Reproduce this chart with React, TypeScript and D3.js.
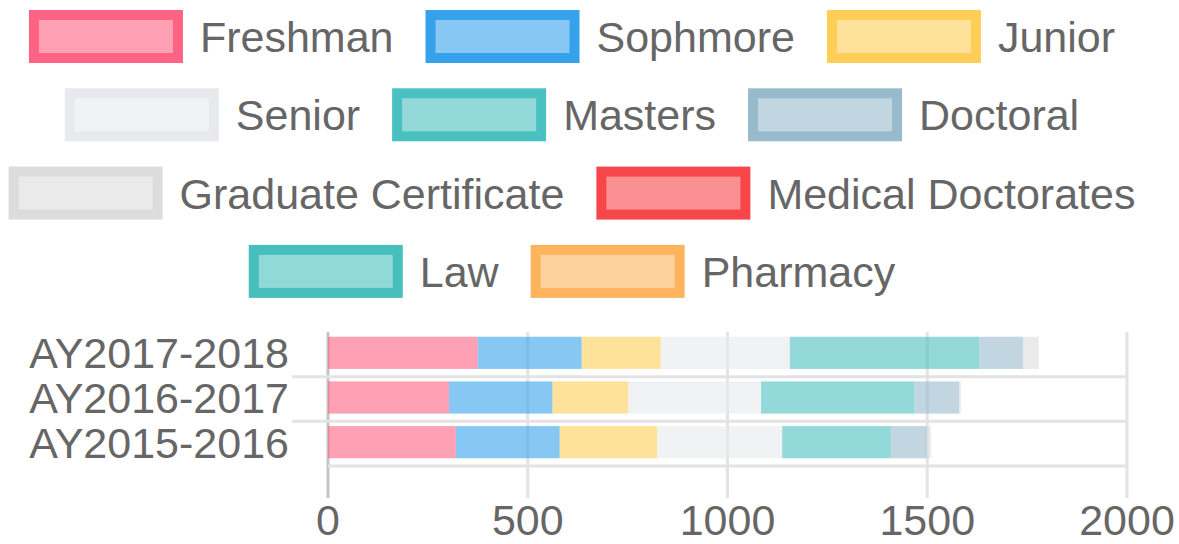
import React, { useEffect, useRef } from 'react';
import * as d3 from 'd3';

// Academic years (top to bottom)
const categories = ["AY2017-2018", "AY2016-2017", "AY2015-2016"];

// Series values, one per academic year
const freshman = [375, 303, 320];
const sophomore = [260, 259, 260];
const junior = [198, 190, 244];
const senior = [323, 332, 313];
const masters = [474, 384, 272];
const doctoral = [110, 112, 90];
const gradCertificate = [39, 4, 10];
const medicalDoctorates = [0, 0, 0];
const law = [0, 0, 0];
const pharmacy = [0, 0, 0];

const seriesNames = [
  "Freshman", "Sophmore", "Junior", "Senior", "Masters", "Doctoral",
  "Graduate Certificate", "Medical Doctorates", "Law", "Pharmacy",
];
const seriesValues = [
  freshman, sophomore, junior, senior, masters, doctoral,
  gradCertificate, medicalDoctorates, law, pharmacy,
];
const seriesColors = [
  [255, 99, 132], [54, 162, 235], [255, 206, 86], [231, 233, 237], [75, 192, 192],
  [151, 187, 205], [220, 220, 220], [247, 70, 74], [70, 191, 189], [253, 180, 92],
];

const xTicks = [0, 500, 1000, 1500, 2000];

function App() {
  const svgRef = useRef<SVGSVGElement>(null);

  useEffect(() => {
    if (!svgRef.current) return;
    const svg = d3.select(svgRef.current);
    svg.selectAll("*").remove();

    const font = "'Liberation Sans', Arial, sans-serif";
    const fontSize = 43;
    const textColor = "#666";

    const rgb = (c: number[]) => `rgb(${c[0]},${c[1]},${c[2]})`;
    const rgba = (c: number[], a: number) => `rgba(${c[0]},${c[1]},${c[2]},${a})`;

    // ---- Legend ----
    const boxW = 154, boxH = 53, boxGap = 17, itemGap = 32, rowH = 78.3;
    const legendCenter = 572, maxRow = 1160;
    const legend = svg.append("g");

    // measure texts
    const widths = seriesNames.map(name => {
      const t = legend.append("text")
        .style("font-family", font).style("font-size", fontSize + "px").text(name);
      const w = (t.node() as SVGTextElement).getComputedTextLength();
      t.remove();
      return w;
    });

    const rows: number[][] = [];
    let cur: number[] = [];
    let curW = 0;
    seriesNames.forEach((_, i) => {
      const w = boxW + boxGap + widths[i];
      const add = cur.length ? itemGap + w : w;
      if (cur.length && curW + add > maxRow) {
        rows.push(cur);
        cur = [i];
        curW = w;
      } else {
        cur.push(i);
        curW += add;
      }
    });
    if (cur.length) rows.push(cur);

    rows.forEach((row, r) => {
      const total = row.reduce((s, i) => s + boxW + boxGap + widths[i], 0) + itemGap * (row.length - 1);
      let x = legendCenter - total / 2;
      const top = 10 + r * rowH;
      row.forEach(i => {
        const bw = 10;
        legend.append("rect")
          .attr("x", x + bw / 2).attr("y", top + bw / 2)
          .attr("width", boxW - bw).attr("height", boxH - bw)
          .attr("fill", rgba(seriesColors[i], 0.6))
          .attr("stroke", rgb(seriesColors[i]))
          .attr("stroke-width", bw);
        legend.append("text")
          .attr("x", x + boxW + boxGap)
          .attr("y", top + boxH / 2 + 15.5)
          .style("font-family", font).style("font-size", fontSize + "px")
          .style("fill", textColor)
          .text(seriesNames[i]);
        x += boxW + boxGap + widths[i] + itemGap;
      });
    });

    // ---- Chart area ----
    const left = 328, right = 1127, top = 332, bottom = 466;
    const x = d3.scaleLinear().domain([0, 2000]).range([left, right]);
    const y = d3.scaleBand<string>().domain(categories).range([top, bottom]);
    const barH = y.step() * 0.72;

    const grid = svg.append("g");
    // vertical grid lines + ticks
    xTicks.forEach(t => {
      grid.append("line")
        .attr("x1", x(t)).attr("x2", x(t))
        .attr("y1", top).attr("y2", 498)
        .attr("stroke", t === 0 ? "#c4c4c4" : "#e3e3e3")
        .attr("stroke-width", 3);
    });
    // horizontal grid lines between categories
    categories.forEach((c, i) => {
      if (i === 0) return;
      const yy = y(c)!;
      grid.append("line")
        .attr("x1", 292).attr("x2", right)
        .attr("y1", yy).attr("y2", yy)
        .attr("stroke", "#e3e3e3").attr("stroke-width", 3);
    });
    grid.append("line")
      .attr("x1", left).attr("x2", right)
      .attr("y1", bottom).attr("y2", bottom)
      .attr("stroke", "#e3e3e3").attr("stroke-width", 3);

    // stacked bars
    const table = categories.map((c, ci) => {
      const row: Record<string, any> = { category: c };
      seriesNames.forEach((s, si) => { row[s] = seriesValues[si][ci]; });
      return row;
    });
    const stacked = d3.stack<Record<string, any>>().keys(seriesNames)(table);

    const bars = svg.append("g");
    stacked.forEach((layer, si) => {
      bars.selectAll(null)
        .data(layer)
        .enter()
        .append("rect")
        .attr("x", d => x(d[0]))
        .attr("y", d => y(d.data.category)! + (y.step() - barH) / 2 - 1.5)
        .attr("width", d => Math.max(0, x(d[1]) - x(d[0])))
        .attr("height", barH)
        .attr("fill", rgba(seriesColors[si], 0.6));
    });

    // y labels
    categories.forEach(c => {
      svg.append("text")
        .attr("x", 289)
        .attr("y", y(c)! + y.step() / 2 + 14)
        .attr("text-anchor", "end")
        .style("font-family", font).style("font-size", fontSize + "px")
        .style("fill", textColor)
        .text(c);
    });

    // x tick labels
    xTicks.forEach(t => {
      svg.append("text")
        .attr("x", x(t))
        .attr("y", 535)
        .attr("text-anchor", "middle")
        .style("font-family", font).style("font-size", fontSize + "px")
        .style("fill", textColor)
        .text(String(t));
    });
  }, []);

  return (
    <svg
      ref={svgRef}
      width={1179}
      height={544}
      style={{ position: "absolute", left: 0, top: 0, background: "#fff" }}
    />
  );
}

export default App;
